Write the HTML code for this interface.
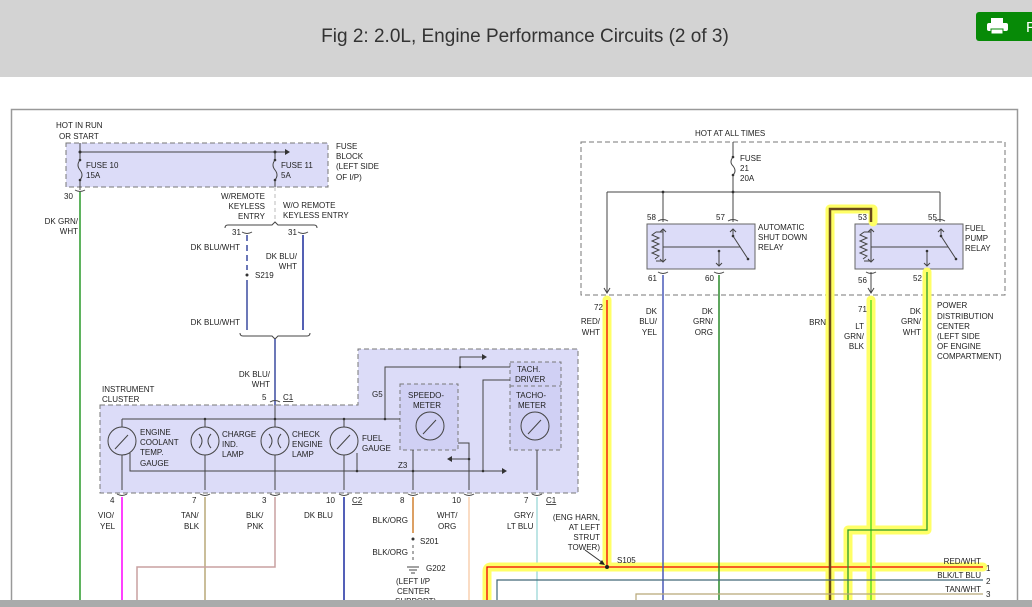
<!DOCTYPE html>
<html><head><meta charset="utf-8"><style>
html,body{margin:0;padding:0;width:1032px;height:607px;overflow:hidden;background:#fff;font-family:"Liberation Sans",sans-serif}
#hdr{position:absolute;left:0;top:0;width:1032px;height:77px;background:#d3d3d3}
#title{position:absolute;left:0;width:1050px;top:26px;text-align:center;font-size:19px;color:#333}
#btn{position:absolute;left:976px;top:12px;width:60px;height:29px;background:#078a07;border-radius:3px}
#bot{position:absolute;left:0;top:600px;width:1032px;height:7px;background:#a9abab}
svg{position:absolute;left:0;top:0}
text{font-family:"Liberation Sans",sans-serif;font-size:8px;fill:#222}
</style></head><body>
<div id="hdr"><div id="title">Fig 2: 2.0L, Engine Performance Circuits (2 of 3)</div>
<div id="btn"><svg width="60" height="29"><rect x="15" y="6" width="12" height="5" fill="#fff"/><rect x="11" y="11" width="21" height="8" rx="2" fill="#fff"/><rect x="15" y="17" width="12" height="5" fill="#fff" stroke="#078a07"/><text x="50" y="20" style="font-size:15px;fill:#fff">P</text></svg></div></div>
<svg width="1032" height="607">
<rect x="11.5" y="109.5" width="1006" height="520" fill="none" stroke="#999" stroke-width="1.5"/>
<!-- fuse block -->
<rect x="66" y="143" width="262" height="44" fill="#dcdcf8" stroke="#777" stroke-dasharray="5,3"/>
<g stroke="#444" fill="none" stroke-width="1">
<path d="M80 143V160 M80 152H285 M275 152V160 M80 180V190 M275 180V187"/>
<path d="M80 160q-4 5 0 10q4 5 0 10 M275 160q-4 5 0 10q4 5 0 10"/>
</g>
<path d="M285 149l5 3-5 3z" fill="#333"/>
<circle cx="80" cy="152" r="1.5" fill="#333"/><circle cx="275" cy="152" r="1.5" fill="#333"/>
<circle cx="80" cy="160" r="1.3" fill="#333"/><circle cx="80" cy="180" r="1.3" fill="#333"/><circle cx="275" cy="160" r="1.3" fill="#333"/><circle cx="275" cy="180" r="1.3" fill="#333"/>
<text x="56" y="128">HOT IN RUN</text><text x="59" y="139">OR START</text>
<text x="86" y="168">FUSE 10</text><text x="86" y="178">15A</text>
<text x="281" y="168">FUSE 11</text><text x="281" y="178">5A</text>
<text x="336" y="149">FUSE</text><text x="336" y="159">BLOCK</text><text x="336" y="169">(LEFT SIDE</text><text x="336" y="180">OF I/P)</text>
<text x="64" y="199">30</text><path d="M75 190q5 3 10 0" stroke="#444" fill="none"/>
<line x1="80" y1="192" x2="80" y2="607" stroke="#2a9a2a" stroke-width="1.5"/>
<text x="78" y="224" text-anchor="end">DK GRN/</text><text x="78" y="234" text-anchor="end">WHT</text>
<line x1="275" y1="187" x2="275" y2="222" stroke="#bbb" stroke-dasharray="4,3"/>
<text x="265" y="199" text-anchor="end">W/REMOTE</text><text x="265" y="209" text-anchor="end">KEYLESS</text><text x="265" y="219" text-anchor="end">ENTRY</text>
<text x="283" y="208">W/O REMOTE</text><text x="283" y="218">KEYLESS ENTRY</text>
<path d="M225 228q0-3 3-3H272l3-3 3 3H314q3 0 3 3" stroke="#444" fill="none"/>
<text x="232" y="235">31</text><text x="288" y="235">31</text>
<path d="M242 232q5 3 10 0 M298 232q5 3 10 0" stroke="#444" fill="none"/>
<line x1="247" y1="235" x2="247" y2="270" stroke="#3a4aa0" stroke-width="1.5" stroke-dasharray="6,4"/>
<line x1="247" y1="280" x2="247" y2="330" stroke="#3a4aa0" stroke-width="1.5"/>
<circle cx="247" cy="275" r="1.5" fill="#333"/><text x="255" y="278">S219</text>
<line x1="303" y1="235" x2="303" y2="330" stroke="#1a2a9a" stroke-width="1.5"/>
<text x="240" y="250" text-anchor="end">DK BLU/WHT</text><text x="297" y="259" text-anchor="end">DK BLU/</text><text x="297" y="269" text-anchor="end">WHT</text>
<text x="240" y="325" text-anchor="end">DK BLU/WHT</text>
<path d="M240 333q0 3 3 3H272l3 3 3-3H307q3 0 3-3" stroke="#444" fill="none"/>
<line x1="275" y1="339" x2="275" y2="405" stroke="#3a4aa0" stroke-width="1.5"/>
<text x="270" y="377" text-anchor="end">DK BLU/</text><text x="270" y="387" text-anchor="end">WHT</text>
<!-- cluster -->
<path d="M100 405H358V349H578V493H100Z" fill="#dcdcf8" stroke="#777" stroke-dasharray="5,3"/>
<text x="102" y="392">INSTRUMENT</text><text x="102" y="402">CLUSTER</text>
<text x="262" y="400">5</text><text x="283" y="400" text-decoration="underline">C1</text>
<path d="M270 402q5-3 10 0" stroke="#444" fill="none"/>
<rect x="400" y="384" width="58" height="66" fill="#d0d0f4" stroke="#777" stroke-dasharray="4,3"/>
<rect x="510" y="362" width="51" height="88" fill="#d0d0f4" stroke="#777" stroke-dasharray="4,3"/>
<line x1="510" y1="386" x2="561" y2="386" stroke="#777" stroke-dasharray="4,3"/>
<text x="517" y="372">TACH.</text><text x="515" y="382">DRIVER</text>
<text x="516" y="398">TACHO-</text><text x="518" y="408">METER</text>
<text x="408" y="398">SPEEDO-</text><text x="413" y="408">METER</text>
<g stroke="#444" fill="none" stroke-width="1">
<path d="M122 419H400 M385 419V367H510 M460 367V357H482 M483 471V380H510"/>
<path d="M130 453V471H502 M122 419V490 M205 419V490 M275 405V490 M344 419V490 M413 450V490 M537 450V490 M458 443H469V490 M469 459H452 M357 453V471"/>
<circle cx="122" cy="441" r="14" fill="#dcdcf8"/><circle cx="344" cy="441" r="14" fill="#dcdcf8"/>
<circle cx="205" cy="441" r="14" fill="#dcdcf8"/><circle cx="275" cy="441" r="14" fill="#dcdcf8"/>
<circle cx="430" cy="426" r="14"/><circle cx="535" cy="426" r="14"/>
<path d="M115 449l13-14 M337 449l13-14 M423 434l13-14 M528 434l13-14"/>
<path d="M199 434q6 7 0 14 M211 434q-6 7 0 14 M269 434q6 7 0 14 M281 434q-6 7 0 14"/>
</g>
<path d="M482 354l5 3-5 3z M502 468l5 3-5 3z M452 456l-5 3 5 3z" fill="#333"/>
<g fill="#333"><circle cx="205" cy="419" r="1.3"/><circle cx="275" cy="419" r="1.3"/><circle cx="344" cy="419" r="1.3"/><circle cx="385" cy="419" r="1.3"/><circle cx="460" cy="367" r="1.3"/><circle cx="357" cy="471" r="1.3"/><circle cx="413" cy="471" r="1.3"/><circle cx="483" cy="471" r="1.3"/><circle cx="469" cy="459" r="1.3"/></g>
<text x="140" y="435">ENGINE</text><text x="140" y="445">COOLANT</text><text x="140" y="455">TEMP.</text><text x="140" y="466">GAUGE</text>
<text x="222" y="437">CHARGE</text><text x="222" y="447">IND.</text><text x="222" y="457">LAMP</text>
<text x="292" y="437">CHECK</text><text x="292" y="447">ENGINE</text><text x="292" y="457">LAMP</text>
<text x="362" y="441">FUEL</text><text x="362" y="451">GAUGE</text>
<text x="372" y="397">G5</text><text x="398" y="468">Z3</text>
<g stroke="#444" fill="none"><path d="M117 494q5 3 10 0 M200 494q5 3 10 0 M270 494q5 3 10 0 M339 494q5 3 10 0 M408 494q5 3 10 0 M464 494q5 3 10 0 M532 494q5 3 10 0"/></g>
<text x="110" y="503">4</text><text x="192" y="503">7</text><text x="262" y="503">3</text><text x="326" y="503">10</text><text x="352" y="503" text-decoration="underline">C2</text><text x="400" y="503">8</text><text x="452" y="503">10</text><text x="524" y="503">7</text><text x="546" y="503" text-decoration="underline">C1</text>
<line x1="122" y1="497" x2="122" y2="607" stroke="#ff00ff" stroke-width="1.5"/>
<line x1="205" y1="497" x2="205" y2="607" stroke="#b8a878" stroke-width="1.5"/>
<path d="M275 497V567H137V607" stroke="#c8a0a0" fill="none" stroke-width="1.5"/>
<line x1="344" y1="497" x2="344" y2="607" stroke="#1a2aa0" stroke-width="1.5"/>
<line x1="413" y1="497" x2="413" y2="533" stroke="#d08030" stroke-width="1.5"/>
<circle cx="413" cy="539" r="1.5" fill="#333"/><line x1="413" y1="545" x2="413" y2="563" stroke="#555" stroke-dasharray="3,3"/>
<path d="M407 567H419 M409 570H417 M411 573H415" stroke="#444"/>
<line x1="469" y1="497" x2="469" y2="607" stroke="#f8d0b0" stroke-width="1.5"/>
<line x1="537" y1="497" x2="537" y2="607" stroke="#a8dcdc" stroke-width="1.5"/>
<text x="98" y="518">VIO/</text><text x="100" y="529">YEL</text>
<text x="181" y="518">TAN/</text><text x="184" y="529">BLK</text>
<text x="246" y="518">BLK/</text><text x="247" y="529">PNK</text>
<text x="304" y="518">DK BLU</text>
<text x="408" y="523" text-anchor="end">BLK/ORG</text><text x="420" y="544">S201</text>
<text x="408" y="555" text-anchor="end">BLK/ORG</text><text x="426" y="571">G202</text>
<text x="396" y="584">(LEFT I/P</text><text x="397" y="594">CENTER</text><text x="395" y="604">SUPPORT)</text>
<text x="437" y="518">WHT/</text><text x="438" y="529">ORG</text>
<text x="514" y="518">GRY/</text><text x="507" y="529">LT BLU</text>
<!-- PDC -->
<rect x="581" y="142" width="424" height="153" fill="none" stroke="#777" stroke-dasharray="5,3"/>
<text x="695" y="136">HOT AT ALL TIMES</text>
<text x="740" y="161">FUSE</text><text x="740" y="171">21</text><text x="740" y="181">20A</text>
<g stroke="#444" fill="none">
<path d="M733 142V157 M733 175V222 M733 157q-4 5 0 9q4 5 0 9 M607 192H940 M607 192V292 M663 192V222 M940 192V222 M871 272V292"/>
</g>
<path d="M604 288l3 5 3-5 M868 288l3 5 3-5" stroke="#444" fill="none"/>
<g fill="#333"><circle cx="663" cy="192" r="1.4"/><circle cx="733" cy="192" r="1.4"/><circle cx="733" cy="157" r="1.3"/><circle cx="733" cy="175" r="1.3"/></g>
<g id="r1">
<rect x="647" y="224" width="108" height="45" fill="#dcdcf8" stroke="#666"/>
<g stroke="#444" fill="none"><path d="M663 229V262 M656 232H663 M656 261H663 M656 232l-4 3 7 3-7 3 7 3-7 3 7 3-7 3 7 3-4 3 M663 247H740" /><path d="M663 247H740" stroke-dasharray="6,3"/><path d="M733 229V236L748 259 M719 251V266"/><path d="M660 232l3-3 3 3 M660 259l3 3 3-3 M730 232l3-3 3 3 M716 263l3 3 3-3"/></g>
<circle cx="733" cy="236" r="1.3" fill="#333"/><circle cx="748" cy="259" r="1.3" fill="#333"/><circle cx="719" cy="251" r="1.3" fill="#333"/>
</g>
<use href="#r1" transform="translate(208,0)"/>
<g stroke="#444" fill="none"><path d="M658 221q5-3 10 0 M728 221q5-3 10 0 M935 221q5-3 10 0 M658 272q5 3 10 0 M714 272q5 3 10 0 M866 272q5 3 10 0"/></g>
<text x="647" y="220">58</text><text x="716" y="220">57</text><text x="858" y="220">53</text><text x="928" y="220">55</text>
<text x="648" y="281">61</text><text x="705" y="281">60</text><text x="858" y="283">56</text><text x="913" y="281">52</text>
<text x="758" y="230">AUTOMATIC</text><text x="758" y="240">SHUT DOWN</text><text x="758" y="250">RELAY</text>
<text x="965" y="231">FUEL</text><text x="965" y="241">PUMP</text><text x="965" y="251">RELAY</text>
<!-- highlighted wires -->
<g fill="none" stroke="#ffff66" stroke-width="9" stroke-linejoin="round" stroke-linecap="round">
<path d="M607 300V567 M487 607V571Q487 567 491 567H983"/>
<path d="M830 607V209H873V222"/>
<path d="M871 300V607"/>
<path d="M927 272V530H848V607"/>
</g>
<path d="M607 300V567 M487 607V567H983" stroke="#f00000" stroke-width="1.3" fill="none"/>
<path d="M830 607V209H871V222" stroke="#6a4a1a" stroke-width="2.5" fill="none"/>
<path d="M871 300V607" stroke="#60e020" stroke-width="1.5" fill="none"/>
<path d="M927 272V530H848V607" stroke="#2a9a2a" stroke-width="1.3" fill="none"/>
<line x1="663" y1="275" x2="663" y2="607" stroke="#4a5ab8" stroke-width="1.5"/>
<line x1="719" y1="275" x2="719" y2="607" stroke="#2a8a2a" stroke-width="1.5"/>
<path d="M497 607V580H983" stroke="#406878" stroke-width="1.2" fill="none"/>
<path d="M636 607V594H983" stroke="#b8a878" stroke-width="1.2" fill="none"/>
<circle cx="607" cy="567" r="2" fill="#222"/>
<path d="M585 550L603 563" stroke="#333"/><path d="M605 565l-6-1 3-4z" fill="#222"/>
<text x="594" y="310">72</text><text x="858" y="312">71</text>
<text x="600" y="324" text-anchor="end">RED/</text><text x="600" y="335" text-anchor="end">WHT</text>
<text x="657" y="314" text-anchor="end">DK</text><text x="657" y="324" text-anchor="end">BLU/</text><text x="657" y="335" text-anchor="end">YEL</text>
<text x="713" y="314" text-anchor="end">DK</text><text x="713" y="324" text-anchor="end">GRN/</text><text x="713" y="335" text-anchor="end">ORG</text>
<text x="826" y="325" text-anchor="end">BRN</text>
<text x="864" y="329" text-anchor="end">LT</text><text x="864" y="339" text-anchor="end">GRN/</text><text x="864" y="349" text-anchor="end">BLK</text>
<text x="921" y="314" text-anchor="end">DK</text><text x="921" y="324" text-anchor="end">GRN/</text><text x="921" y="335" text-anchor="end">WHT</text>
<text x="937" y="308">POWER</text><text x="937" y="319">DISTRIBUTION</text><text x="937" y="329">CENTER</text><text x="937" y="339">(LEFT SIDE</text><text x="937" y="349">OF ENGINE</text><text x="937" y="359">COMPARTMENT)</text>
<text x="600" y="520" text-anchor="end">(ENG HARN,</text><text x="600" y="530" text-anchor="end">AT LEFT</text><text x="600" y="540" text-anchor="end">STRUT</text><text x="600" y="550" text-anchor="end">TOWER)</text>
<text x="617" y="563">S105</text>
<text x="981" y="564" text-anchor="end">RED/WHT</text><text x="986" y="571">1</text>
<text x="981" y="578" text-anchor="end">BLK/LT BLU</text><text x="986" y="584">2</text>
<text x="981" y="592" text-anchor="end">TAN/WHT</text><text x="986" y="597">3</text>
</svg>
<div id="bot"></div>
</body></html>
